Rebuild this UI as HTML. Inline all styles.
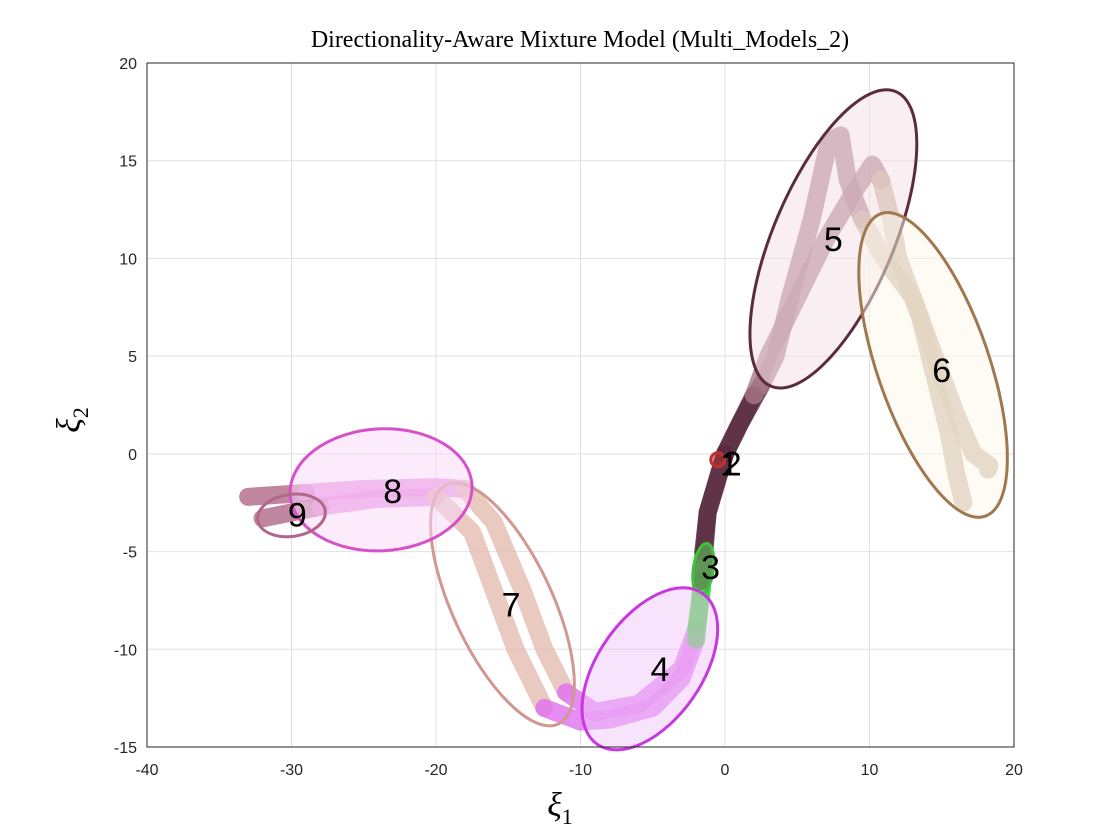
<!DOCTYPE html>
<html><head><meta charset="utf-8"><style>
body{margin:0;background:#fff;width:1120px;height:840px;overflow:hidden}
svg{display:block}
</style></head><body>
<svg id="chart" width="1120" height="840">
<rect x="0" y="0" width="1120" height="840" fill="#fff"/>
<g id="grid"></g>
<g id="traj"></g>
<g id="ells"></g>
<rect x="147" y="63" width="867" height="684" fill="none" stroke="#262626" stroke-width="1"/>
<g id="ticks"></g>
<text x="580" y="47" text-anchor="middle" font-family="Liberation Serif, serif" font-size="24" fill="#000">Directionality-Aware Mixture Model (Multi_Models_2)</text>
<text x="560" y="816" text-anchor="middle" font-family="Liberation Serif, serif" font-style="italic" font-size="34">ξ<tspan font-size="22" font-style="normal" dy="8">1</tspan></text>
<text x="80" y="420" text-anchor="middle" font-family="Liberation Serif, serif" font-style="italic" font-size="34" transform="rotate(-90 80 420)">ξ<tspan font-size="22" font-style="normal" dy="8">2</tspan></text>
</svg>
<script>
const xTicks=[-40,-30,-20,-10,0,10,20];
const yTicks=[-15,-10,-5,0,5,10,15,20];
const clusterIds=[1,2,3,4,5,6,7,8,9];
const clusterColors={1:"#5a2c3e",2:"#c03030",3:"#40d040",4:"#e070f0",5:"#a87888",6:"#c8b098",7:"#e4bcb0",8:"#e888e0",9:"#b06888"};
const ellCx=[0,-0.5,-1.5,-5.2,7.5,14.4,-15.4,-23.8,-30];
const ellCy=[0,-0.3,-5.9,-11,11,4.55,-7.7,-1.84,-3.15];
const ellRx=[5,7,26,92,160,160,132,91,34];
const ellRy=[5,7,10,52,60,56,50,61,21];
const ellAng=[0,0,-82,-55,-67,71,65,-3,-8];
const ellStroke=["#5a2c3e","#c03030","#40c040","#c838e0","#5a2c3e","#a07850","#d09890","#d850c8","#b06888"];
const ellFill=["none","#c03030","#60e060","#f0c8f8","#f4dde4","#fbf8ea","none","#f8d8f8","none"];
const labelX=[0.3,0.5,-1,-4.5,7.5,15,-14.8,-23,-29.6];
const labelY=[-0.5,-0.5,-5.8,-11,11,4.3,-7.7,-1.9,-3.1];
const labelText=["1","2","3","4","5","6","7","8","9"];
const t1x=[-33,-29,-25,-20,-18,-16,-14,-12.5,-11,-9,-6,-3,-2,-1.6,-1.5,-1.2,-0.6,0];
const t1y=[-2.2,-2.0,-1.8,-1.7,-1.8,-3.5,-7,-10,-12.2,-13.2,-12.8,-11,-9,-7,-5,-3,-1.5,0];
const t1c=[9,9,8,8,8,7,7,7,7,4,4,4,4,3,3,1,1,1];
const t2x=[-32,-28,-24,-20,-17.5,-16,-14.5,-12.5,-10,-8,-5,-3,-2,-1.6,-1.2,-0.6,0];
const t2y=[-3.3,-2.7,-2.3,-2.2,-4,-7,-10,-13,-13.7,-13.6,-13,-11.5,-9.5,-6.5,-3,-1.5,0];
const t2c=[9,9,8,8,7,7,7,7,4,4,4,4,4,3,1,1,1];
const t3x=[0,1,2.5,3.5,4.5,6,7.2,8,8.5,9.5,11,13,14.5,16,17.2,18.3,18.2];
const t3y=[0,1.5,3.5,5,8,12,16,16.3,14,12,10,8,5,2,0,-0.6,-0.8];
const t3c=[1,1,1,5,5,5,5,5,5,5,6,6,6,6,6,6,6];
const t4x=[0,2,3,5,7,9,10.2,10.8,11.5,12,13.5,14.5,15.5,16,16.5];
const t4y=[0,3,5,8,11,13.5,14.8,14,12,10,7,4,1,-1,-2.5];
const t4c=[1,1,5,5,5,5,5,5,6,6,6,6,6,6,6];
const X=v=>147+(v+40)*867/60, Y=v=>63+(20-v)*684/35;
const NS="http://www.w3.org/2000/svg";
function mk(tag,attrs,parent){const e=document.createElementNS(NS,tag);for(const k in attrs)e.setAttribute(k,attrs[k]);parent.appendChild(e);return e;}
const grid=document.getElementById('grid'),ticks=document.getElementById('ticks');
xTicks.forEach(t=>{
 const l=mk('line',{x1:X(t),x2:X(t),y1:63,y2:747,stroke:'#e0e0e0','stroke-width':1},grid);
 
 
 const s=mk('text',{x:X(t),y:775,'text-anchor':'middle','font-family':'Liberation Sans, sans-serif','font-size':16,fill:'#262626'},ticks);
 s.textContent=t;
 
 
});
yTicks.forEach(t=>{
 const l=mk('line',{x1:147,x2:1014,y1:Y(t),y2:Y(t),stroke:'#e0e0e0','stroke-width':1},grid);
 
 
 const s=mk('text',{x:137,y:Y(t)+6,'text-anchor':'end','font-family':'Liberation Sans, sans-serif','font-size':16,fill:'#262626'},ticks);
 s.textContent=t;
 
 
});
const traj=document.getElementById('traj');
[[t1x,t1y,t1c],[t2x,t2y,t2c],[t3x,t3y,t3c],[t4x,t4y,t4c]].forEach(([xs,ys,cs])=>{
 let i=0;
 while(i<xs.length-1){
  let j=i+1; const c=cs[i+1];
  while(j<xs.length-1&&cs[j+1]===c)j++;
  const pts=[];
  for(let k=i;k<=j;k++)pts.push(X(xs[k])+','+Y(ys[k]));
  const p=mk('polyline',{points:pts.join(' '),fill:'none',stroke:clusterColors[c],'stroke-width':18,'stroke-linecap':'round','stroke-linejoin':'round','stroke-opacity':0.8},traj);
  
  
  i=j;
 }
});
const ells=document.getElementById('ells');
clusterIds.forEach((c,i)=>{
 const e=mk('ellipse',{cx:X(ellCx[i]),cy:Y(ellCy[i]),rx:ellRx[i],ry:ellRy[i],transform:`rotate(${ellAng[i]} ${X(ellCx[i])} ${Y(ellCy[i])})`,fill:ellFill[i],'fill-opacity':0.5,stroke:ellStroke[i],'stroke-width':3},ells);
 
 
});
clusterIds.forEach((c,i)=>{
 const s=mk('text',{x:X(labelX[i]),y:Y(labelY[i])+12,'text-anchor':'middle','font-family':'Liberation Sans, sans-serif','font-size':34,fill:'#000'},ells);
 s.textContent=labelText[i];
 
 
});
</script>
</body></html>
